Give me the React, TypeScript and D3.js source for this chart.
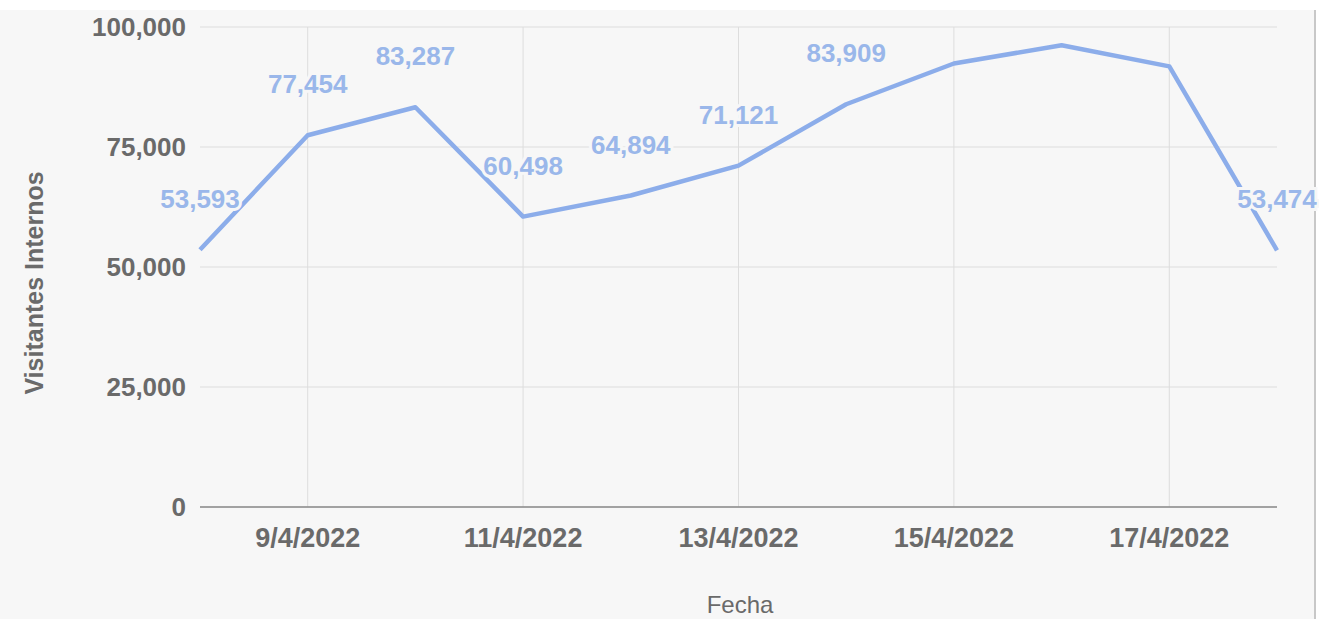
import * as d3 from "d3";

const dates = [
  "2022-04-08", "2022-04-09", "2022-04-10", "2022-04-11", "2022-04-12", "2022-04-13",
  "2022-04-14", "2022-04-15", "2022-04-16", "2022-04-17", "2022-04-18",
];
const visitors = [53593, 77454, 83287, 60498, 64894, 71121, 83909, 92400, 96200, 91800, 53474];
const showLabel = [true, true, true, true, true, true, true, false, false, false, true];
const yTicks = [0, 25000, 50000, 75000, 100000];
const xTickDates = ["2022-04-09", "2022-04-11", "2022-04-13", "2022-04-15", "2022-04-17"];

const W = 1319;
const H = 619;
const margin = { top: 27, right: 42, bottom: 112, left: 200 };
const BG = "#f7f7f7";
const LINE = "#8cadea";
const FONT = "'Liberation Sans', Arial, sans-serif";

export default function App() {
  const parse = (s: string) => new Date(s + "T00:00:00Z");
  const points = dates.map((d, i) => ({ date: parse(d), value: visitors[i], label: showLabel[i] }));

  const x = d3
    .scaleUtc()
    .domain([points[0].date, points[points.length - 1].date])
    .range([margin.left, W - margin.right]);
  const y = d3.scaleLinear().domain([0, 100000]).range([H - margin.bottom, margin.top]);

  const line = d3
    .line<{ date: Date; value: number }>()
    .x((d) => x(d.date))
    .y((d) => y(d.value));

  const fmt = d3.format(",");
  const fmtDate = (d: Date) => `${d.getUTCDate()}/${d.getUTCMonth() + 1}/${d.getUTCFullYear()}`;
  const [x0, x1] = x.range();
  const yBase = y(0);

  return (
    <svg
      width={W}
      height={H}
      style={{ position: "absolute", left: 0, top: 0, fontFamily: FONT }}
    >
      <rect x={0} y={0} width={W} height={H} fill="#ffffff" />
      <rect x={0} y={10} width={1314} height={H - 10} fill={BG} />
      <line x1={1315} x2={1315} y1={10} y2={H} stroke="#c8c8c8" strokeWidth={2} />

      {/* gridlines */}
      {yTicks.map((t) => (
        <line key={"gy" + t} x1={x0} x2={x1} y1={y(t)} y2={y(t)} stroke="#dddddd" strokeWidth={1} />
      ))}
      {xTickDates.map((s) => (
        <line
          key={"gx" + s}
          x1={x(parse(s))}
          x2={x(parse(s))}
          y1={margin.top}
          y2={yBase}
          stroke="#dddddd"
          strokeWidth={1}
        />
      ))}
      <line x1={x0} x2={x1} y1={yBase} y2={yBase} stroke="#8a8a8a" strokeWidth={1.5} />

      {/* y tick labels */}
      {yTicks.map((t) => (
        <text
          key={"ty" + t}
          x={x0 - 14}
          y={y(t)}
          dy="0.35em"
          textAnchor="end"
          fontSize={26}
          fontWeight="bold"
          fill="#6a6a6a"
        >
          {fmt(t)}
        </text>
      ))}
      {/* x tick labels */}
      {xTickDates.map((s) => (
        <text
          key={"tx" + s}
          x={x(parse(s))}
          y={yBase + 40}
          textAnchor="middle"
          fontSize={27}
          fontWeight="bold"
          fill="#6a6a6a"
        >
          {fmtDate(parse(s))}
        </text>
      ))}

      {/* axis titles */}
      <text x={740} y={613} textAnchor="middle" fontSize={24} fill="#6a6a6a">
        Fecha
      </text>
      <text
        transform={`translate(43,${(margin.top + yBase) / 2 + 16}) rotate(-90)`}
        textAnchor="middle"
        fontSize={25}
        fontWeight="bold"
        fill="#6a6a6a"
      >
        Visitantes Internos
      </text>

      {/* series */}
      <path d={line(points) ?? ""} fill="none" stroke={LINE} strokeWidth={4.5} strokeLinejoin="round" />

      {points
        .filter((p) => p.label)
        .map((p) => (
          <text
            key={"l" + p.date.toISOString()}
            x={x(p.date)}
            y={y(p.value) - 42}
            textAnchor="middle"
            fontSize={26}
            fontWeight="bold"
            fill="#9ab7ea"
            stroke={BG}
            strokeWidth={6}
            paintOrder="stroke"
          >
            {fmt(p.value)}
          </text>
        ))}
    </svg>
  );
}
